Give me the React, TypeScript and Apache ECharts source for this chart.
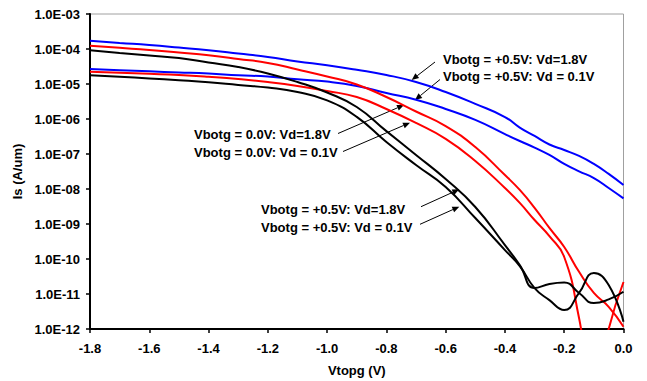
import React, { useEffect, useRef } from "react";
import * as echarts from "echarts";

// Vtopg (V) sample positions
const xValues = [-1.8, -1.7, -1.6, -1.5, -1.4, -1.3, -1.2, -1.1, -1.0, -0.9, -0.8, -0.7, -0.6, -0.5, -0.4, -0.35, -0.3, -0.25, -0.2, -0.15, -0.1, -0.05, 0.0];

// Is (A/um)
const blueVd18 = [1.72e-4, 1.49e-4, 1.3e-4, 1.1e-4, 9.2e-5, 7.4e-5, 5.9e-5, 4.4e-5, 3.44e-5, 2.55e-5, 1.81e-5, 1.14e-5, 5.9e-6, 2.7e-6, 1.14e-6, 5.7e-7, 3.27e-7, 1.87e-7, 1.3e-7, 8.8e-8, 5.2e-8, 2.7e-8, 1.3e-8];
const blueVd01 = [2.68e-5, 2.48e-5, 2.3e-5, 2.14e-5, 1.98e-5, 1.78e-5, 1.63e-5, 1.36e-5, 1.17e-5, 8.8e-6, 5.5e-6, 3.56e-6, 1.93e-6, 9.4e-7, 3.7e-7, 2.35e-7, 1.53e-7, 9.4e-8, 5.2e-8, 3.2e-8, 2.06e-8, 1.07e-8, 5.4e-9];
const redVd18 = [1.24e-4, 1.08e-4, 9.4e-5, 7.9e-5, 6.6e-5, 5.2e-5, 4.0e-5, 2.6e-5, 1.64e-5, 9.7e-6, 4.25e-6, 1.64e-6, 6.3e-7, 1.58e-7, 2.5e-8, 9.4e-9, 2.9e-9, 7.7e-10, 2.2e-10, 4.3e-11, 1.07e-11, 4.3e-12, 1.16e-12];
const redVd01 = [2.24e-5, 2.1e-5, 1.96e-5, 1.81e-5, 1.61e-5, 1.39e-5, 1.14e-5, 8.8e-6, 6.3e-6, 4.25e-6, 1.93e-6, 7.7e-7, 2.7e-7, 6.3e-8, 1.07e-8, 4.0e-9, 1.3e-9, 4.5e-10, 1.14e-10, 2.06e-12, 1e-14, 1.0e-12, 2.2e-11];
const blackVd18 = [9.2e-5, 7.7e-5, 6.5e-5, 5.5e-5, 4.1e-5, 3.06e-5, 2.0e-5, 1.14e-5, 5.7e-6, 2.2e-6, 4.5e-7, 9.4e-8, 1.93e-8, 3.06e-9, 2.5e-10, 6.7e-11, 1.48e-11, 1.93e-11, 2.13e-11, 1.07e-11, 5.5e-12, 7.0e-12, 1.16e-11];
const blackVd01 = [1.77e-5, 1.61e-5, 1.44e-5, 1.28e-5, 1.12e-5, 9.4e-6, 7.9e-6, 5.9e-6, 3.4e-6, 1.15e-6, 2.2e-7, 4.85e-8, 1.14e-8, 1.48e-9, 1.8e-10, 6.3e-11, 1.48e-11, 6.7e-12, 3.5e-12, 1.07e-11, 4.0e-11, 1.8e-11, 1.6e-12];

const seriesDefs = [
  { name: "Vbotg = +0.5V: Vd=1.8V (blue)", color: "#0000FF", values: blueVd18 },
  { name: "Vbotg = +0.5V: Vd = 0.1V (blue)", color: "#0000FF", values: blueVd01 },
  { name: "Vbotg = 0.0V: Vd=1.8V", color: "#FF0000", values: redVd18 },
  { name: "Vbotg = 0.0V: Vd = 0.1V", color: "#FF0000", values: redVd01 },
  { name: "Vbotg = +0.5V: Vd=1.8V (black)", color: "#000000", values: blackVd18 },
  { name: "Vbotg = +0.5V: Vd = 0.1V (black)", color: "#000000", values: blackVd01 },
];

const FONT = "'Liberation Sans', Arial, Helvetica, sans-serif";

const annotations = [
  { text: "Vbotg = +0.5V: Vd=1.8V", tx: 443, ty: 59.5, from: [435, 62], to: [411.7, 80] },
  { text: "Vbotg = +0.5V: Vd = 0.1V", tx: 443, ty: 76.5, from: [440, 79.5], to: [415, 100] },
  { text: "Vbotg = 0.0V: Vd=1.8V", tx: 194, ty: 134.5, from: [338, 133.5], to: [404, 105] },
  { text: "Vbotg = 0.0V: Vd = 0.1V", tx: 194, ty: 152, from: [343, 151.5], to: [410, 122.7] },
  { text: "Vbotg = +0.5V: Vd=1.8V", tx: 261, ty: 209.5, from: [421, 206.7], to: [459.3, 189.3] },
  { text: "Vbotg = +0.5V: Vd = 0.1V", tx: 261, ty: 227, from: [420, 224.3], to: [459.3, 206.7] },
];

function arrowHead(from: number[], to: number[]) {
  const dx = to[0] - from[0];
  const dy = to[1] - from[1];
  const L = Math.sqrt(dx * dx + dy * dy);
  const ux = dx / L, uy = dy / L;
  const len = 7, half = 3;
  const bx = to[0] - ux * len, by = to[1] - uy * len;
  return [
    [to[0], to[1]],
    [bx - uy * half, by + ux * half],
    [bx + uy * half, by - ux * half],
  ];
}

function yLabel(v: number) {
  const e = Math.round(Math.log10(v));
  const s = String(Math.abs(e)).padStart(2, "0");
  return "1.0E" + (e < 0 ? "-" : "+") + s;
}

function xLabel(v: number) {
  if (Math.abs(v) < 1e-9) return "0.0";
  return v.toFixed(1);
}

export default function App() {
  const ref = useRef<HTMLDivElement>(null);
  useEffect(() => {
    if (!ref.current) return;
    const chart = echarts.init(ref.current, undefined, { renderer: "svg" });
    const graphics: any[] = [];
    annotations.forEach((a) => {
      graphics.push({
        type: "text",
        x: a.tx,
        y: a.ty,
        style: {
          text: a.text,
          font: "bold 13px " + FONT,
          fill: "#000",
          textAlign: "left",
          textVerticalAlign: "middle",
        },
      });
      const head = arrowHead(a.from, a.to);
      graphics.push({
        type: "line",
        shape: { x1: a.from[0], y1: a.from[1], x2: (head[1][0] + head[2][0]) / 2, y2: (head[1][1] + head[2][1]) / 2 },
        style: { stroke: "#000", lineWidth: 1 },
      });
      graphics.push({
        type: "polygon",
        shape: { points: head },
        style: { fill: "#000" },
      });
    });
    chart.setOption({
      animation: false,
      backgroundColor: "#fff",
      grid: {
        left: 90,
        right: 23.5,
        top: 14,
        bottom: 52,
        containLabel: false,
        outerBoundsMode: "none",
        show: true,
        borderColor: "#A0A0A0",
        borderWidth: 1,
        backgroundColor: "transparent",
      },
      xAxis: {
        type: "value",
        min: -1.8,
        max: 0,
        interval: 0.2,
        name: "Vtopg (V)",
        nameLocation: "middle",
        nameGap: 35,
        nameTextStyle: { fontFamily: FONT, fontWeight: "bold", fontSize: 13, color: "#000" },
        axisLine: { show: true, onZero: false, lineStyle: { color: "#000", width: 2 } },
        axisTick: { show: true, inside: false, length: 4, lineStyle: { color: "#000", width: 1.5 } },
        axisLabel: { formatter: xLabel, fontFamily: FONT, fontWeight: "bold", fontSize: 13, color: "#000", margin: 13 },
        splitLine: { show: false },
      },
      yAxis: {
        type: "log",
        logBase: 10,
        min: 1e-12,
        max: 1e-3,
        interval: 1,
        name: "Is (A/um)",
        nameLocation: "middle",
        nameGap: 63,
        nameRotate: 90,
        nameTextStyle: { fontFamily: FONT, fontWeight: "bold", fontSize: 13, color: "#000" },
        axisLine: { show: true, onZero: false, lineStyle: { color: "#000", width: 2 } },
        axisTick: { show: true, inside: false, length: 4, lineStyle: { color: "#000", width: 1.5 } },
        axisLabel: { formatter: yLabel, fontFamily: FONT, fontWeight: "bold", fontSize: 13, color: "#000", margin: 10 },
        splitLine: { show: false },
        minorTick: { show: false },
      },
      series: seriesDefs.map((s) => ({
        name: s.name,
        type: "line",
        data: xValues.map((x, i) => [x, s.values[i]]),
        showSymbol: false,
        symbol: "none",
        smooth: 0.5,
        clip: true,
        lineStyle: { color: s.color, width: 2 },
        itemStyle: { color: s.color },
      })),
      graphic: graphics,
    });
    return () => chart.dispose();
  }, []);
  return (
    <div
      ref={ref}
      style={{ position: "fixed", left: 0, top: 0, width: 647, height: 381, background: "#fff" }}
    />
  );
}
